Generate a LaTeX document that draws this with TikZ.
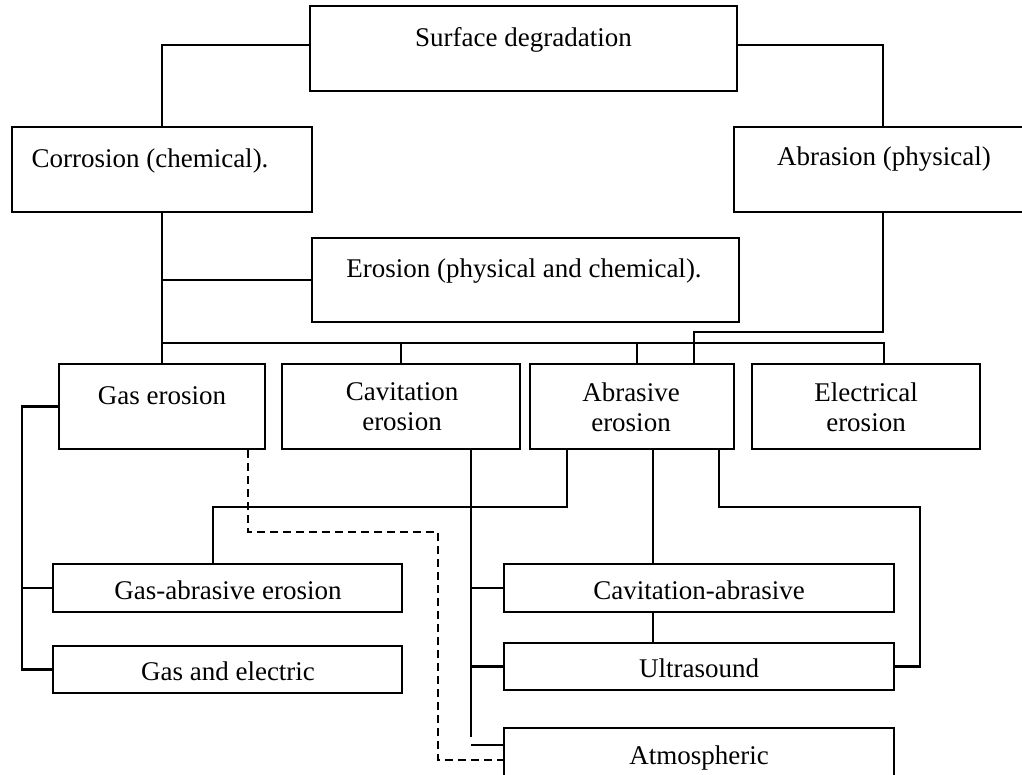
\documentclass[tikz,border=0pt]{standalone}
\usepackage{fontspec}
\setmainfont{Liberation Serif}
\begin{document}
\begin{tikzpicture}[x=1pt,y=-1pt,
  box/.style={draw, line width=2.2pt, rectangle, inner sep=0pt},
  lbl/.style={font=\fontsize{27}{30}\selectfont, align=center, inner sep=0pt},
  conn/.style={line width=2.2pt},
  dconn/.style={line width=2.2pt, dash pattern=on 8pt off 5pt}]
\useasboundingbox (0,0) rectangle (1022,775);
\clip (0,0) rectangle (1022,775);
\fill[white] (0,0) rectangle (1022,775);
% boxes
\node[box, minimum width=427pt, minimum height=85pt] (sd) at (523.5,48.5) {};
\node[lbl] (sdt) at (523.5,40) {Surface degradation};
\node[box, minimum width=300pt, minimum height=85pt] (cor) at (162,169.5) {};
\node[lbl] (cort) at (150,161) {Corrosion (chemical).};
\node[box, minimum width=298pt, minimum height=85pt] (abr) at (883,169.5) {};
\node[lbl] (abrt) at (884,159) {Abrasion (physical)};
\node[box, minimum width=427pt, minimum height=84pt] (ero) at (525.5,280) {};
\node[lbl] (erot) at (524,271) {Erosion (physical and chemical).};
\node[box, minimum width=206pt, minimum height=85pt] (gas) at (162,406.5) {};
\node[lbl] (gast) at (162,396) {Gas erosion};
\node[box, minimum width=238pt, minimum height=85pt] (cav) at (401,406.5) {};
\node[lbl] (cavt) at (402,407) {Cavitation\\erosion};
\node[box, minimum width=204pt, minimum height=85pt] (abe) at (632,406.5) {};
\node[lbl] (abet) at (631,407) {Abrasive\\erosion};
\node[box, minimum width=228pt, minimum height=85pt] (ele) at (866,406.5) {};
\node[lbl] (elet) at (866,407) {Electrical\\erosion};
\node[box, minimum width=349pt, minimum height=48pt] (ga) at (227.5,588) {};
\node[lbl] (gat) at (228,590) {Gas-abrasive erosion};
\node[box, minimum width=349pt, minimum height=47pt] (ge) at (227.5,669.5) {};
\node[lbl] (get) at (228,671) {Gas and electric};
\node[box, minimum width=390pt, minimum height=48pt] (ca) at (699,588) {};
\node[lbl] (cat) at (699,590) {Cavitation-abrasive};
\node[box, minimum width=390pt, minimum height=47pt] (us) at (699,666.5) {};
\node[lbl] (ust) at (699,668) {Ultrasound};
\node[box, minimum width=390pt, minimum height=52pt] (at) at (699,754) {};
\node[lbl] (att) at (699,758) {Atmospheric};
% connectors
\draw[conn] ([yshift=3.5pt]sd.west) -| (cor.north);
\draw[conn] ([yshift=3.5pt]sd.east) -| (abr.north);
\coordinate (busL) at (162,343);
\coordinate (busR) at (884,343);
\draw[conn] (cor.south) -- (busL) -- (busR) -- (busR |- ele.north);
\draw[conn] (cor.south |- ero.west) -- (ero.west);
\draw[conn] (busL) -- (gas.north);
\draw[conn] (cav.north |- busL) -- (cav.north);
\draw[conn] ([xshift=5pt]abe.north |- busL) -- ([xshift=5pt]abe.north);
\coordinate (h0) at (694,332);
\draw[conn] (abr.south) |- (h0) -- (h0 |- abe.north);
% gas erosion branches
\coordinate (gx) at (22,0);
\draw[conn] (gas.west) -- (gas.west -| gx) -- (gx |- ge.west) -- (ge.west);
\draw[conn] (gx |- ga.west) -- (ga.west);
% abrasive erosion branches
\coordinate (h1) at (213,507);
\draw[conn] ([xshift=-65pt]abe.south) |- (h1) -- (h1 |- ga.north);
\coordinate (cx) at (653,0);
\draw[conn] (cx |- abe.south) -- (cx |- ca.north);
\draw[conn] (cx |- ca.south) -- (cx |- us.north);
\coordinate (h2) at (920,507);
\draw[conn] ([xshift=87pt]abe.south) |- (h2) |- (us.east);
% cavitation branches
\coordinate (cv) at (471,737);
\draw[conn] ([xshift=70pt]cav.south) -- (cv);
\draw[conn] (cv |- ca.west) -- (ca.west);
\draw[conn] (cv |- us.west) -- (us.west);
\coordinate (st) at (471,745);
\draw[conn] (st) -- (st -| at.west);
% dashed
\coordinate (d1) at (438,532);
\draw[dconn] ([xshift=86pt]gas.south) |- (d1) |- ([yshift=-6pt]at.west);
\end{tikzpicture}
\end{document}
